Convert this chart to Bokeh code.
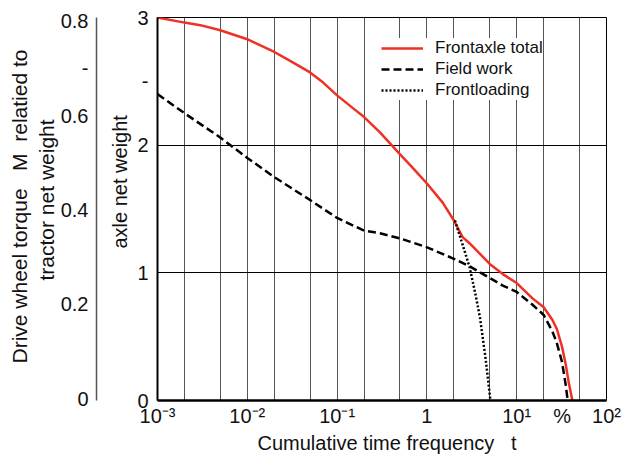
from bokeh.plotting import figure
from bokeh.models import Range1d, LinearAxis, FixedTicker, Legend, LegendItem, Title
from bokeh.embed import file_html
from bokeh.resources import INLINE

# ---- data ----
freq_total = [0.001, 0.002, 0.003, 0.005, 0.01, 0.02, 0.03, 0.05, 0.07, 0.1, 0.15, 0.2, 0.3,
              0.5, 0.7, 1, 1.5, 2, 2.5, 3, 4, 5, 7, 10, 15, 20, 25, 28, 32, 35, 38, 41.7]
load_total = [3.00, 2.96, 2.94, 2.90, 2.83, 2.73, 2.66, 2.57, 2.49, 2.39, 2.29, 2.22, 2.10,
              1.93, 1.82, 1.70, 1.55, 1.41, 1.28, 1.23, 1.14, 1.07, 0.99, 0.92, 0.80, 0.73,
              0.63, 0.56, 0.42, 0.29, 0.14, 0.0]

freq_field = [0.001, 0.002, 0.005, 0.01, 0.02, 0.05, 0.1, 0.2, 0.3, 0.5, 1, 2, 3, 5, 7, 10,
              15, 20, 25, 28, 32, 35, 37]
load_field = [2.40, 2.25, 2.06, 1.90, 1.75, 1.57, 1.43, 1.33, 1.31, 1.27, 1.20, 1.11, 1.05, 0.96,
              0.90, 0.85, 0.75, 0.67, 0.54, 0.45, 0.30, 0.13, 0.0]

freq_loading = [2.05, 2.5, 3.0, 3.5, 3.9, 4.5, 5.1]
load_loading = [1.41, 1.22, 1.04, 0.82, 0.65, 0.33, 0.0]

series_names = ["Frontaxle total", "Field work", "Frontloading"]

x_ticks = [0.001, 0.01, 0.1, 1, 10, 32, 100]
x_tick_labels = ["10\u207b\u00b3", "10\u207b\u00b2", "10\u207b\u00b9", "1", "10\u00b9", "%", "10\u00b2"]
grid_freqs = [0.001, 0.002, 0.005, 0.01, 0.02, 0.05, 0.1, 0.2, 0.5, 1, 2, 5, 10, 20, 50, 100]

y_ticks = [0, 1, 2, 2.5, 3]
y_tick_labels = ["0", "1", "2", "-", "3"]

torque_ticks = [0, 0.2, 0.4, 0.6, 0.7, 0.8]
torque_tick_labels = ["0", "0.2", "0.4", "0.6", "-", "0.8"]

NB = "\u00a0"
x_title = "Cumulative time frequency" + NB * 3 + "t"
y_title = "axle net weight"
torque_title_1 = "Drive wheel torque" + NB * 3 + "M" + NB * 2 + "relatied to"
torque_title_2 = "tractor net weight"

FONT = "Liberation Sans"
TXT = "#111111"

p = figure(width=626, height=459, x_axis_type="log",
           x_range=Range1d(1e-3, 1e2), y_range=Range1d(0, 3),
           output_backend="svg", toolbar_location=None,
           min_border_left=157, min_border_right=20, min_border_top=17, min_border_bottom=59)
p.background_fill_color = "white"
p.border_fill_color = "white"
p.outline_line_color = "black"
p.outline_line_width = 1

# grids
p.xgrid.ticker = FixedTicker(ticks=grid_freqs)
p.xgrid.grid_line_color = "#555555"
p.xgrid.grid_line_width = 1
p.ygrid.ticker = FixedTicker(ticks=[1, 2])
p.ygrid.grid_line_color = "black"
p.ygrid.grid_line_width = 1

# x axis
xa = p.xaxis[0]
xa.ticker = FixedTicker(ticks=x_ticks)
xa.major_label_overrides = {t: l for t, l in zip(x_ticks, x_tick_labels)}
xa.major_tick_out = 0
xa.major_tick_in = 0
xa.minor_tick_line_color = None
xa.axis_line_width = 2.5
xa.axis_line_color = "black"
xa.major_label_text_font = FONT
xa.major_label_text_font_size = "20px"
xa.major_label_text_color = TXT
xa.major_label_standoff = 4

# main y axis (closest to the frame)
ya = p.yaxis[0]
ya.ticker = FixedTicker(ticks=y_ticks)
ya.major_label_overrides = {t: l for t, l in zip(y_ticks, y_tick_labels)}
ya.major_tick_out = 0
ya.major_tick_in = 0
ya.minor_tick_line_color = None
ya.axis_line_width = 2
ya.axis_line_color = "black"
ya.major_label_text_font = FONT
ya.major_label_text_font_size = "20px"
ya.major_label_text_color = TXT
ya.major_label_standoff = 9

def side_title(text, side, offset, standoff, size):
    t = Title(text=text, align="left", offset=offset, standoff=standoff,
              text_font=FONT, text_font_size=size, text_font_style="normal",
              text_color=TXT)
    p.add_layout(t, side)

# x axis title
side_title(x_title, "below", 100, 0, "20px")

# main y axis title
side_title(y_title, "left", 152, 8, "20px")
# small empty gap before the torque axis
p.add_layout(Title(text=" ", text_font_size="1px", standoff=3), "left")

# secondary (torque) axis
p.extra_y_ranges = {"torque": Range1d(-0.004, 0.808)}
ta = LinearAxis(y_range_name="torque", ticker=FixedTicker(ticks=torque_ticks))
ta.major_label_overrides = {t: l for t, l in zip(torque_ticks, torque_tick_labels)}
ta.major_tick_out = 0
ta.major_tick_in = 0
ta.minor_tick_line_color = None
ta.axis_line_color = "#555555"
ta.axis_line_width = 1.5
ta.major_label_text_font = FONT
ta.major_label_text_font_size = "20px"
ta.major_label_text_color = TXT
ta.major_label_standoff = 8
p.add_layout(ta, "left")

# two-line torque title
side_title(torque_title_2, "left", 120, 0, "21px")
side_title(torque_title_1, "left", 37, 3, "21px")

# curves
r1 = p.line(freq_total, load_total, line_color="#ee3124", line_width=2.5)
r2 = p.line(freq_field, load_field, line_color="black", line_width=2.5, line_dash="8 4")
r3 = p.line(freq_loading, load_loading, line_color="black", line_width=2.5, line_dash="2 2")

legend = Legend(items=[LegendItem(label=series_names[0], renderers=[r1]),
                       LegendItem(label=series_names[1], renderers=[r2]),
                       LegendItem(label=series_names[2], renderers=[r3])],
                location=(224, 300), margin=0, padding=6, spacing=1,
                glyph_width=42, glyph_height=20, label_height=20, label_standoff=12,
                label_text_font=FONT, label_text_font_size="17px", label_text_color=TXT,
                border_line_color=None, background_fill_color="white", background_fill_alpha=1)
p.add_layout(legend)

open("out.html", "w").write(file_html(p, INLINE))
